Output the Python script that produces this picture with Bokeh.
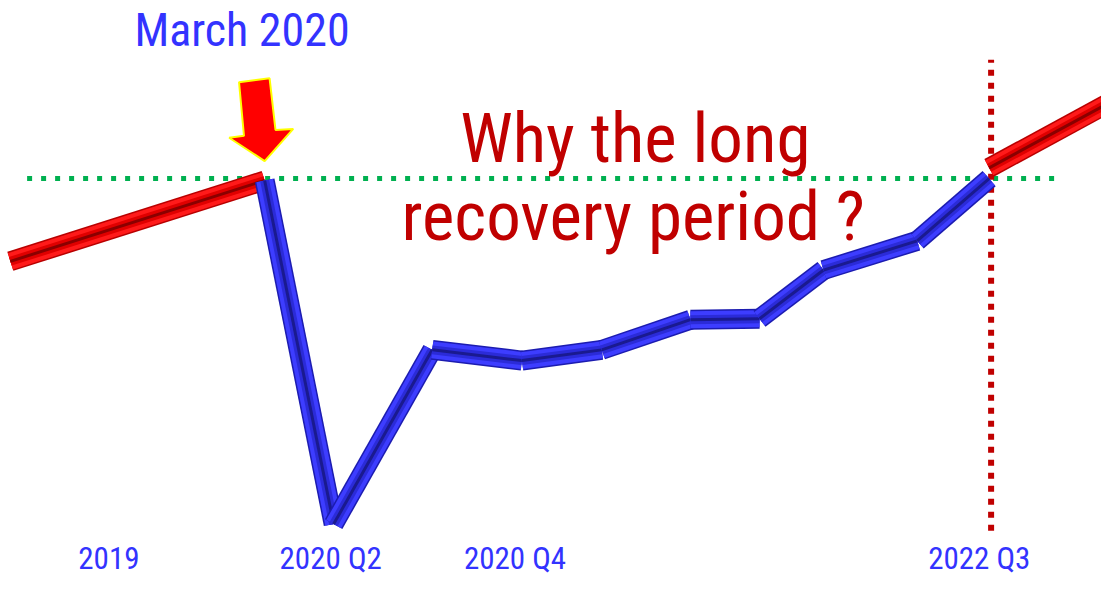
from bokeh.plotting import figure
from bokeh.models import Range1d
from bokeh.core.properties import value
from bokeh.embed import file_html
from bokeh.resources import INLINE

# ---- data (index, pre-crisis level = 100) ----
pre_x = [1.0, 26.8]
pre_y = [91.5, 99.8]
covid_x = [26.8, 33.8, 43.8, 52.9, 61.0, 70.0, 77.0, 83.5, 93.0, 100.3]
covid_y = [99.8, 64.5, 82.4, 81.3, 82.4, 85.5, 85.6, 90.6, 93.6, 100.0]
post_x = [100.3, 112.5]
post_y = [101.1, 107.8]
pre_level = 100.0
recovery_x = 100.5
tick_x = [11.0, 33.5, 52.2, 99.3]
tick_labels = ["2019", "2020 Q2", "2020 Q4", "2022 Q3"]

FONT = value("'Roboto Condensed', 'Liberation Sans'")

p = figure(width=1101, height=580, output_backend="svg", toolbar_location=None,
           x_range=Range1d(0.0, 111.7), y_range=Range1d(58.7, 118.3),
           min_border=0)
p.axis.visible = False
p.grid.visible = False
p.outline_line_color = None
p.background_fill_color = "white"
p.border_fill_color = "white"

# reference lines
p.line([2.7, 107.5], [pre_level, pre_level], line_color="#00b050", line_width=5,
       line_dash="5 9")
p.line([recovery_x, recovery_x], [63.8, 112.2], line_color="#c00000", line_width=6,
       line_dash="6 7")


def bevel(xs, ys, outline, face, inner, ridge):
    segx = [[xs[i], xs[i + 1]] for i in range(len(xs) - 1)]
    segy = [[ys[i], ys[i + 1]] for i in range(len(ys) - 1)]
    for i in range(len(segx)):
        p.line(segx[i], segy[i], line_color=outline, line_width=20, line_cap="butt")
        p.line(segx[i], segy[i], line_color=face, line_width=17, line_cap="butt")
        p.line(segx[i], segy[i], line_color=inner, line_width=9, line_cap="butt")
        p.line(segx[i], segy[i], line_color=ridge, line_width=3, line_cap="butt")


bevel(pre_x, pre_y, "#b80000", "#ff1a1a", "#e00000", "#8a0000")
bevel(covid_x, covid_y, "#1c1cb0", "#3d3dff", "#2b2bd8", "#1a1a90")
bevel(post_x, post_y, "#b80000", "#ff1a1a", "#e00000", "#8a0000")

# arrow pointing at March 2020 (offsets in pixels relative to the point)
mx, my = covid_x[0], covid_y[0]
offs = [(0, -20), (-36, -44), (-21, -46), (-26, -101), (5, -105), (11, -52), (29, -53)]
ax = [mx + dx * 0.1 for dx, dy in offs]
ay = [my - dy * 0.1 for dx, dy in offs]
p.patch(ax, ay, fill_color="#ff0000", line_color="#ffff00", line_width=2)

# texts
p.text(x=[24.5], y=[115.3], text=["March 2020"], text_color="#3333ff",
       text_font=FONT, text_font_size="46px", text_align="center",
       text_baseline="alphabetic")
p.text(x=[64.4, 64.2], y=[104.1, 96.1], text=["Why the long", "recovery period ?"],
       text_color="#c00000", text_font=FONT, text_font_size="69px",
       text_align="center", text_baseline="alphabetic")
p.text(x=tick_x, y=[61.0] * len(tick_x), text=tick_labels, text_color="#3333ff",
       text_font=FONT, text_font_size="31px", text_align="center",
       text_baseline="middle")

open("out.html", "w").write(file_html(p, INLINE))
